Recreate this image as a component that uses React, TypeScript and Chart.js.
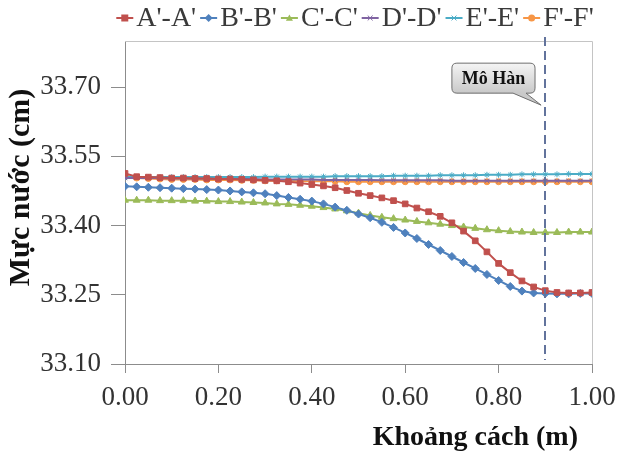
import { useEffect, useRef } from "react";
import { Chart, registerables } from "chart.js";

Chart.register(...registerables);

// ---- data ----
const distances = [
  0, 0.025, 0.05, 0.075, 0.1, 0.125, 0.15, 0.175, 0.2, 0.225,
  0.25, 0.275, 0.3, 0.325, 0.35, 0.375, 0.4, 0.425, 0.45, 0.475,
  0.5, 0.525, 0.55, 0.575, 0.6, 0.625, 0.65, 0.675, 0.7, 0.725,
  0.75, 0.775, 0.8, 0.825, 0.85, 0.875, 0.9, 0.925, 0.95, 0.975, 1.0,
];

const seriesA = [
  33.513, 33.506, 33.505, 33.504, 33.503, 33.503, 33.502, 33.502, 33.501, 33.501,
  33.5, 33.499, 33.498, 33.497, 33.495, 33.492, 33.489, 33.486, 33.482, 33.476,
  33.47, 33.465, 33.46, 33.454, 33.447, 33.438, 33.43, 33.42, 33.406, 33.388,
  33.367, 33.343, 33.318, 33.298, 33.28, 33.267, 33.259, 33.255, 33.254, 33.254, 33.255,
];

const seriesB = [
  33.485, 33.484, 33.483, 33.482, 33.481, 33.48, 33.479, 33.478, 33.477, 33.475,
  33.473, 33.471, 33.469, 33.465, 33.461, 33.457, 33.453, 33.447, 33.44, 33.433,
  33.425, 33.417, 33.407, 33.396, 33.384, 33.372, 33.359, 33.346, 33.333, 33.32,
  33.307, 33.294, 33.281, 33.268, 33.258, 33.254, 33.253, 33.252, 33.252, 33.253, 33.253,
];

const seriesC = [
  33.455, 33.455, 33.455, 33.454, 33.454, 33.454, 33.453, 33.453, 33.452, 33.452,
  33.451, 33.45, 33.449, 33.447, 33.446, 33.444, 33.442, 33.439, 33.436, 33.432,
  33.427, 33.422, 33.418, 33.415, 33.412, 33.409, 33.406, 33.403, 33.4, 33.397,
  33.394, 33.391, 33.389, 33.387, 33.386, 33.385, 33.385, 33.385, 33.386, 33.386, 33.386,
];

const seriesD = [
  33.503, 33.503, 33.503, 33.503, 33.502, 33.502, 33.502, 33.502, 33.501, 33.501,
  33.501, 33.501, 33.5, 33.5, 33.5, 33.5, 33.5, 33.499, 33.499, 33.499,
  33.499, 33.499, 33.498, 33.498, 33.498, 33.498, 33.498, 33.498, 33.497, 33.497,
  33.497, 33.497, 33.497, 33.497, 33.497, 33.497, 33.497, 33.497, 33.497, 33.497, 33.497,
];

const seriesE = [
  33.505, 33.505, 33.505, 33.505, 33.505, 33.505, 33.505, 33.505, 33.505, 33.505,
  33.505, 33.505, 33.506, 33.506, 33.506, 33.506, 33.506, 33.506, 33.507, 33.507,
  33.507, 33.507, 33.507, 33.508, 33.508, 33.508, 33.508, 33.509, 33.509, 33.509,
  33.509, 33.51, 33.51, 33.51, 33.511, 33.511, 33.511, 33.511, 33.512, 33.512, 33.512,
];

const seriesF = [
  33.508, 33.503, 33.502, 33.501, 33.5, 33.5, 33.5, 33.499, 33.499, 33.499,
  33.498, 33.498, 33.497, 33.497, 33.497, 33.496, 33.496, 33.496, 33.496, 33.495,
  33.495, 33.495, 33.495, 33.495, 33.495, 33.495, 33.495, 33.495, 33.495, 33.495,
  33.495, 33.495, 33.495, 33.495, 33.495, 33.495, 33.495, 33.495, 33.495, 33.495, 33.495,
];

const seriesLabels = ["A'-A'", "B'-B'", "C'-C'", "D'-D'", "E'-E'", "F'-F'"];
const seriesColors = ["#C0504D", "#4F81BD", "#9BBB59", "#8064A2", "#4BACC6", "#F79646"];
const seriesMarkers = ["rect", "rectRot", "triangle", "crossRot", "star", "circle"];
const seriesValues = [seriesA, seriesB, seriesC, seriesD, seriesE, seriesF];

const xTicks = [0, 0.2, 0.4, 0.6, 0.8, 1.0];
const yTicks = [33.1, 33.25, 33.4, 33.55, 33.7];
const yMin = 33.1;
const yMax = 33.8;

const xTitle = "Khoảng cách (m)";
const yTitle = "Mực nước (cm)";

// vertical marker line and its callout (in data units)
const markerX = 0.9;
const markerLabel = "Mô Hàn";
const calloutBox = { x0: 0.7, x1: 0.878, yTop: 33.752, yBottom: 33.687 };
const calloutTip = { x: 0.891, y: 33.661 };

const FONT = "'Liberation Serif', 'DejaVu Serif', 'Noto Serif', serif";

function drawMarker(ctx: CanvasRenderingContext2D, style: string, x: number, y: number, r: number, color: string) {
  ctx.save();
  ctx.fillStyle = color;
  ctx.strokeStyle = color;
  ctx.lineWidth = 1;
  ctx.beginPath();
  if (style === "rect") {
    ctx.rect(x - r, y - r, 2 * r, 2 * r);
    ctx.fill();
  } else if (style === "rectRot") {
    ctx.moveTo(x, y - r - 0.5);
    ctx.lineTo(x + r + 0.5, y);
    ctx.lineTo(x, y + r + 0.5);
    ctx.lineTo(x - r - 0.5, y);
    ctx.closePath();
    ctx.fill();
  } else if (style === "triangle") {
    ctx.moveTo(x, y - r);
    ctx.lineTo(x + r, y + r * 0.8);
    ctx.lineTo(x - r, y + r * 0.8);
    ctx.closePath();
    ctx.fill();
  } else if (style === "circle") {
    ctx.arc(x, y, r, 0, Math.PI * 2);
    ctx.fill();
  } else {
    ctx.moveTo(x - r * 0.7, y - r * 0.7);
    ctx.lineTo(x + r * 0.7, y + r * 0.7);
    ctx.moveTo(x + r * 0.7, y - r * 0.7);
    ctx.lineTo(x - r * 0.7, y + r * 0.7);
    ctx.stroke();
  }
  ctx.restore();
}

const decorPlugin = {
  id: "decor",
  beforeDatasetsDraw(chart: any) {
    const { ctx, chartArea } = chart;
    ctx.save();
    ctx.strokeStyle = "#c4c4c4";
    ctx.lineWidth = 1;
    ctx.beginPath();
    ctx.moveTo(chartArea.left, chartArea.top + 0.5);
    ctx.lineTo(chartArea.right + 0.5, chartArea.top + 0.5);
    ctx.lineTo(chartArea.right + 0.5, chartArea.bottom);
    ctx.stroke();
    ctx.restore();
  },
  afterDatasetsDraw(chart: any) {
    const { ctx, chartArea, scales } = chart;
    const xs = scales.x;
    const ys = scales.y;
    ctx.save();
    const lx = Math.round(xs.getPixelForValue(markerX));
    ctx.strokeStyle = "#62739c";
    ctx.lineWidth = 2;
    ctx.setLineDash([9, 5]);
    ctx.beginPath();
    ctx.moveTo(lx, chartArea.top - 4);
    ctx.lineTo(lx, chartArea.bottom - 4);
    ctx.stroke();
    ctx.setLineDash([]);

    const bx0 = xs.getPixelForValue(calloutBox.x0);
    const bx1 = xs.getPixelForValue(calloutBox.x1);
    const by0 = ys.getPixelForValue(calloutBox.yTop);
    const by1 = ys.getPixelForValue(calloutBox.yBottom);
    const tx = xs.getPixelForValue(calloutTip.x);
    const ty = ys.getPixelForValue(calloutTip.y);
    const r = 5;
    const t0 = bx1 - 22;
    const t1 = bx1 - 9;
    ctx.beginPath();
    ctx.moveTo(bx0 + r, by0);
    ctx.lineTo(bx1 - r, by0);
    ctx.quadraticCurveTo(bx1, by0, bx1, by0 + r);
    ctx.lineTo(bx1, by1 - r);
    ctx.quadraticCurveTo(bx1, by1, bx1 - r, by1);
    ctx.lineTo(t1, by1);
    ctx.lineTo(tx, ty);
    ctx.lineTo(t0, by1);
    ctx.lineTo(bx0 + r, by1);
    ctx.quadraticCurveTo(bx0, by1, bx0, by1 - r);
    ctx.lineTo(bx0, by0 + r);
    ctx.quadraticCurveTo(bx0, by0, bx0 + r, by0);
    ctx.closePath();
    const g = ctx.createLinearGradient(0, by0, 0, by1);
    g.addColorStop(0, "#f4f4f4");
    g.addColorStop(1, "#c9c9c9");
    ctx.fillStyle = g;
    ctx.fill();
    ctx.strokeStyle = "#6f6f6f";
    ctx.lineWidth = 1;
    ctx.stroke();
    ctx.fillStyle = "#111";
    ctx.font = `bold 18px ${FONT}`;
    ctx.textAlign = "center";
    ctx.textBaseline = "middle";
    ctx.fillText(markerLabel, (bx0 + bx1) / 2, (by0 + by1) / 2 + 1);
    ctx.restore();
  },
  afterDraw(chart: any) {
    const { ctx } = chart;
    ctx.save();
    ctx.font = `28px ${FONT}`;
    const segW = 17;
    const gapText = 3;
    const gapItem = 4;
    const widths = seriesLabels.map((l) => ctx.measureText(l).width);
    const total =
      widths.reduce((a, b) => a + b, 0) + seriesLabels.length * (segW + gapText) + (seriesLabels.length - 1) * gapItem;
    let x = 355 - total / 2;
    const yc = 18;
    seriesLabels.forEach((label, i) => {
      const c = seriesColors[i];
      ctx.strokeStyle = c;
      ctx.lineWidth = 2;
      ctx.beginPath();
      ctx.moveTo(x, yc);
      ctx.lineTo(x + segW, yc);
      ctx.stroke();
      drawMarker(ctx, seriesMarkers[i], x + segW / 2, yc, 3.5, c);
      ctx.font = `28px ${FONT}`;
      ctx.fillStyle = "#3a3a3a";
      ctx.textAlign = "left";
      ctx.textBaseline = "middle";
      ctx.fillText(label, x + segW + gapText, yc + 1);
      x += segW + gapText + widths[i] + gapItem;
    });
    ctx.restore();
  },
};

export default function App() {
  const ref = useRef<HTMLCanvasElement | null>(null);

  useEffect(() => {
    if (!ref.current) return;
    const datasets = seriesLabels.map((label, i) => ({
      label,
      data: distances.map((d, j) => ({ x: d, y: seriesValues[i][j] })),
      borderColor: seriesColors[i],
      backgroundColor: seriesColors[i],
      pointBackgroundColor: seriesColors[i],
      pointBorderColor: seriesColors[i],
      pointStyle: seriesMarkers[i],
      pointRadius: i >= 3 ? 3 : 4,
      pointBorderWidth: 1,
      borderWidth: 2,
      tension: 0,
      fill: false,
    }));
    const tickFont = { family: FONT, size: 27 };
    const chart = new Chart(ref.current, {
      type: "line",
      data: { datasets },
      plugins: [decorPlugin],
      options: {
        responsive: false,
        animation: false,
        events: [],
        layout: { padding: { top: 41, right: 33, left: 0, bottom: 0 } },
        plugins: { legend: { display: false }, tooltip: { enabled: false } },
        scales: {
          x: {
            type: "linear",
            min: 0,
            max: 1,
            afterBuildTicks: (s: any) => {
              s.ticks = xTicks.map((v) => ({ value: v }));
            },
            afterFit: (s: any) => {
              s.height = 93;
            },
            ticks: {
              autoSkip: false,
              maxRotation: 0,
              font: tickFont,
              color: "#333",
              padding: 9,
              callback: (v: any) => Number(v).toFixed(2),
            },
            grid: { drawOnChartArea: false, tickLength: 9, color: "#8c8c8c" },
            border: { color: "#8c8c8c", width: 1 },
            title: {
              display: true,
              text: xTitle + "  ",
              align: "end",
              color: "#111",
              font: { family: FONT, size: 28, weight: "bold" },
              padding: { top: 0, bottom: 2 },
            },
          },
          y: {
            type: "linear",
            min: yMin,
            max: yMax,
            afterBuildTicks: (s: any) => {
              s.ticks = yTicks.map((v) => ({ value: v }));
            },
            afterFit: (s: any) => {
              s.width = 125;
            },
            ticks: {
              font: tickFont,
              color: "#333",
              padding: 10,
              callback: (v: any) => Number(v).toFixed(2),
            },
            grid: { drawOnChartArea: false, tickLength: 14, color: "#8c8c8c" },
            border: { color: "#8c8c8c", width: 1 },
            title: {
              display: true,
              text: "    " + yTitle,
              color: "#111",
              font: { family: FONT, size: 30, weight: "bold" },
              padding: { top: 3, bottom: 0 },
            },
          },
        },
      } as any,
    });
    return () => chart.destroy();
  }, []);

  return (
    <div style={{ position: "absolute", left: 0, top: 0, width: 625, height: 457, background: "#fff" }}>
      <canvas ref={ref} width={625} height={457} style={{ display: "block" }} />
    </div>
  );
}
